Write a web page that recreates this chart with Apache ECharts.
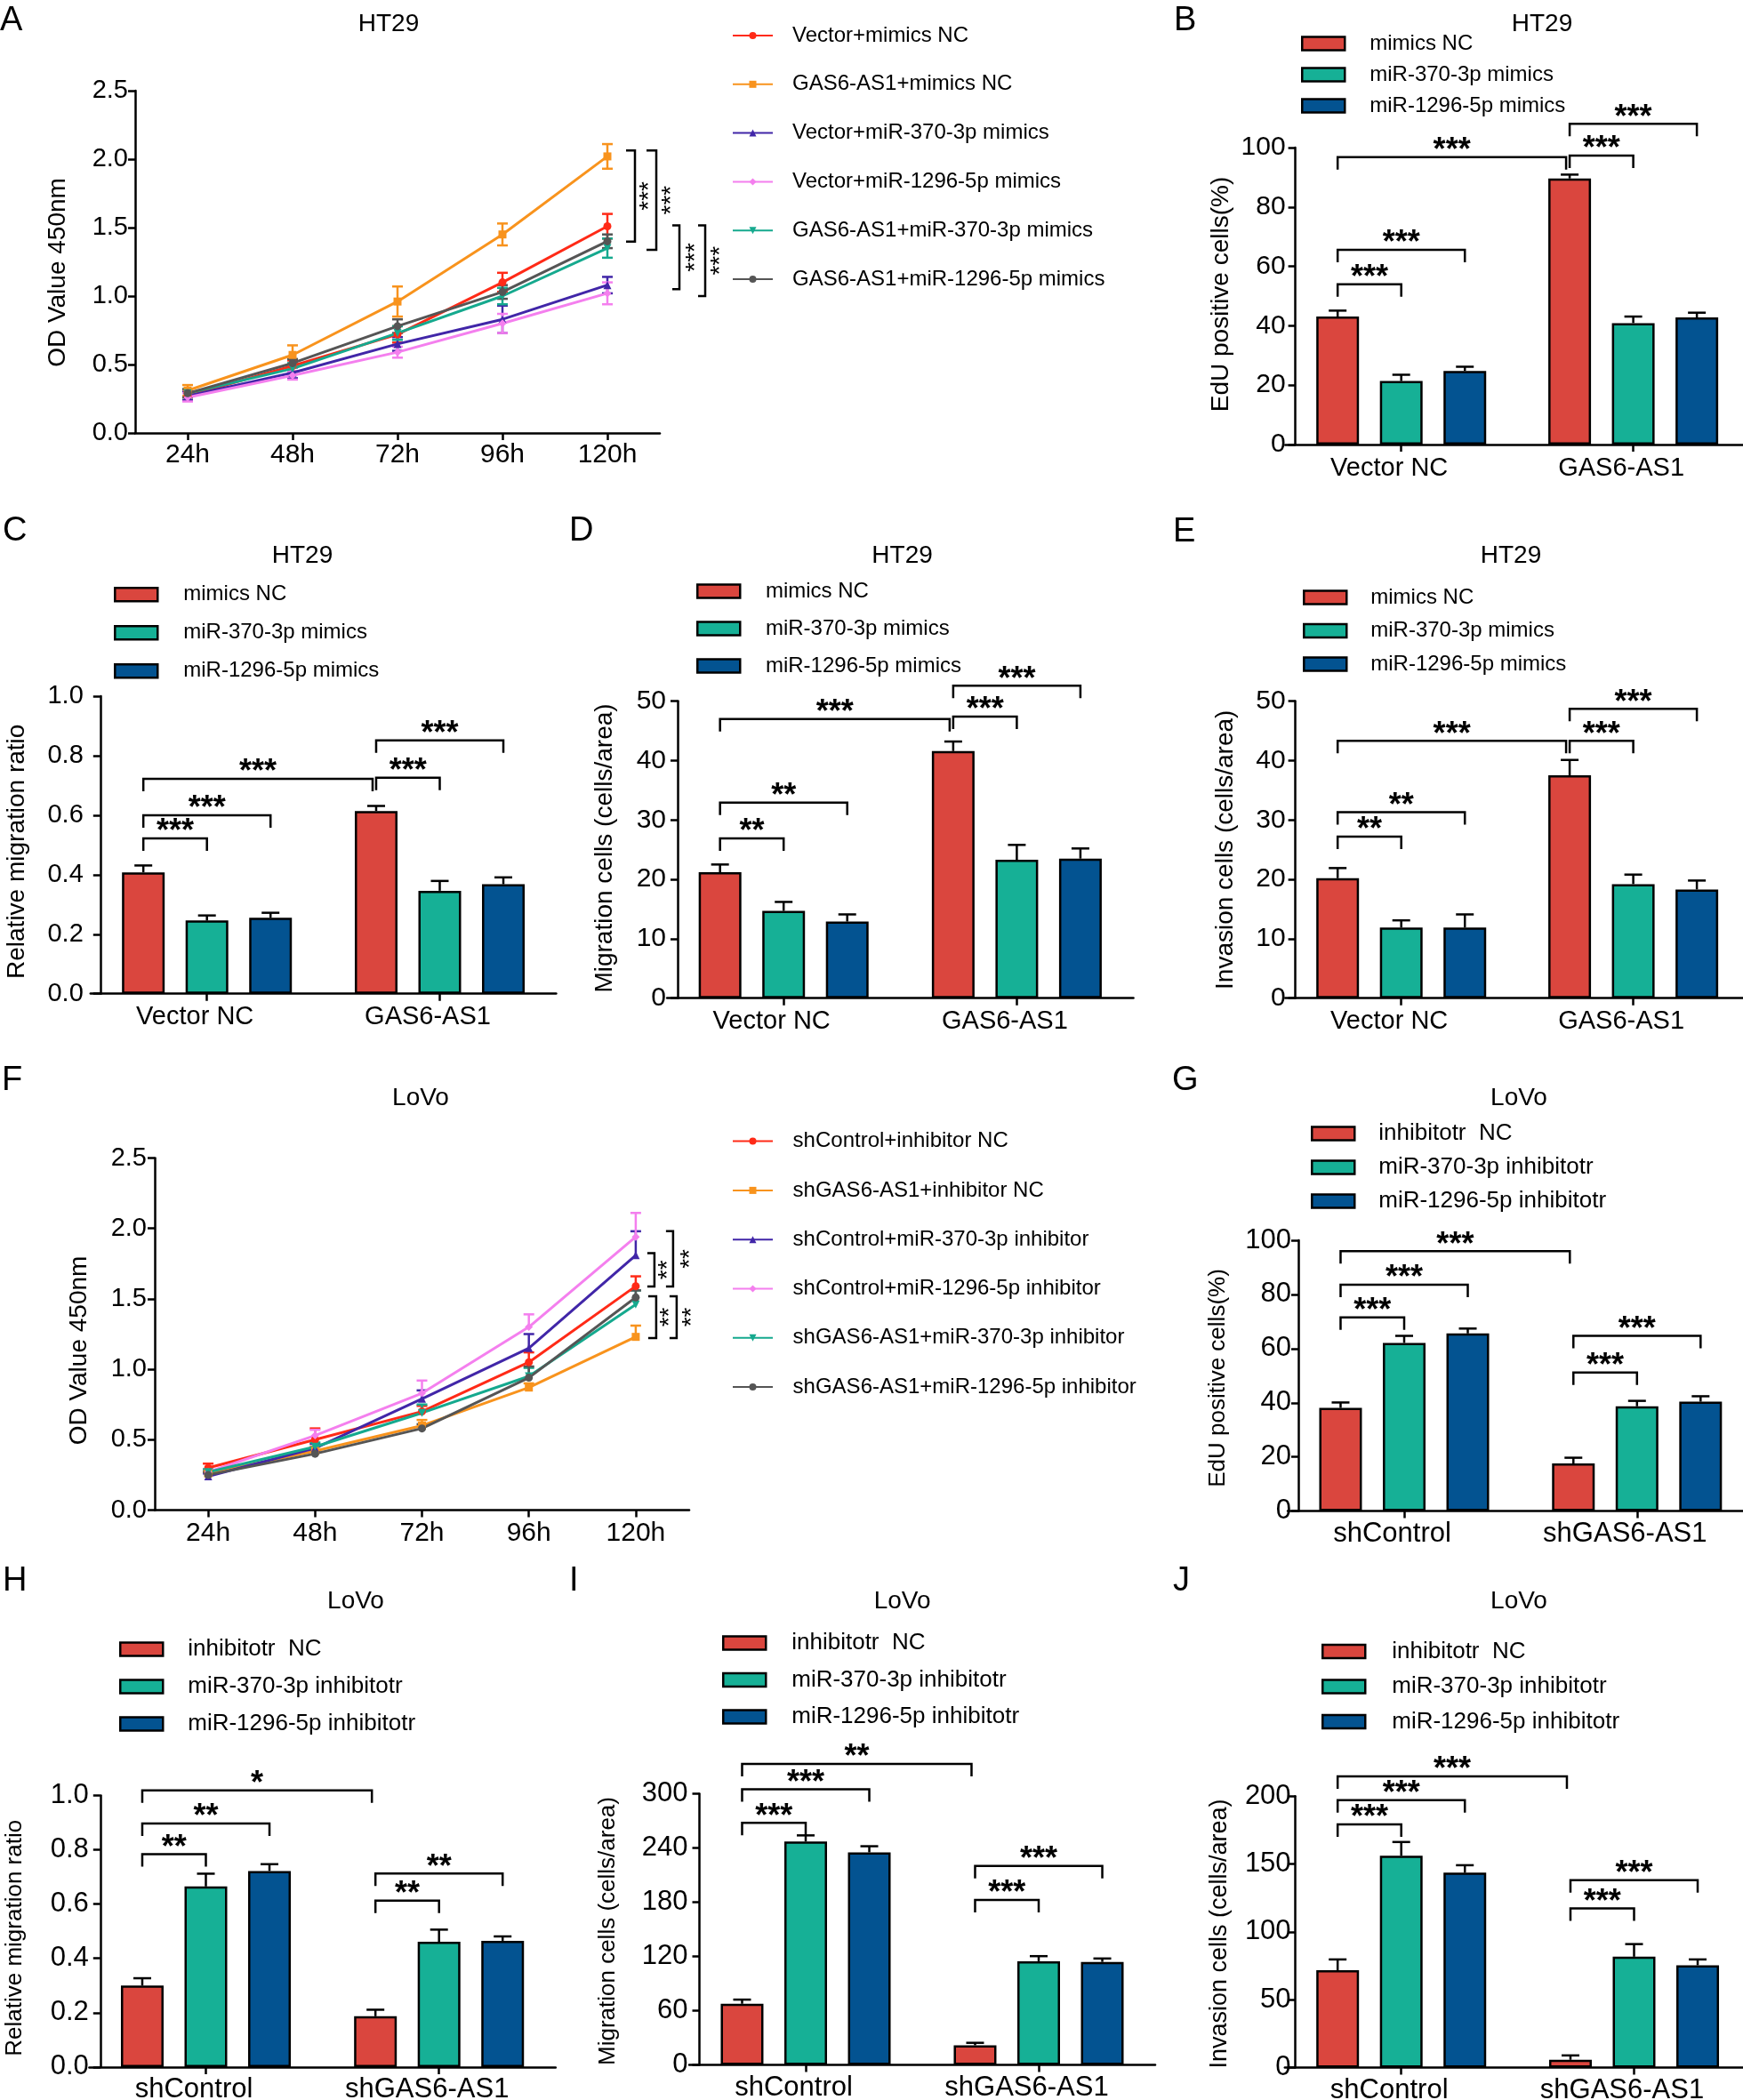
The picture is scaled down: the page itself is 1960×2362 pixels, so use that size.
<!DOCTYPE html>
<html><head><meta charset="utf-8">
<script src="https://cdn.jsdelivr.net/npm/echarts@6/dist/echarts.min.js"></script>
<style>html,body{margin:0;padding:0;background:#fff}#c{width:1960px;height:2362px}</style>
</head><body><div id="c"></div><script>
const FONT = '"Liberation Sans", Arial, Helvetica, sans-serif';

// ---------- DATA ----------
const hours = ['24h', '48h', '72h', '96h', '120h'];

const namesA = ['Vector+mimics NC', 'GAS6-AS1+mimics NC', 'Vector+miR-370-3p mimics', 'Vector+miR-1296-5p mimics', 'GAS6-AS1+miR-370-3p mimics', 'GAS6-AS1+miR-1296-5p mimics'];
const meanA = [
  [0.27, 0.49, 0.72, 1.10, 1.51],
  [0.31, 0.57, 0.96, 1.45, 2.02],
  [0.27, 0.44, 0.65, 0.83, 1.08],
  [0.26, 0.42, 0.59, 0.80, 1.02],
  [0.29, 0.47, 0.73, 1.00, 1.35],
  [0.29, 0.51, 0.78, 1.03, 1.40]
];
const errA = [
  [0.03, 0.04, 0.06, 0.07, 0.09],
  [0.04, 0.07, 0.11, 0.08, 0.09],
  [0.03, 0.04, 0.05, 0.10, 0.06],
  [0.03, 0.03, 0.04, 0.07, 0.08],
  [0.03, 0.04, 0.05, 0.06, 0.07],
  [0.03, 0.03, 0.05, 0.05, 0.05]
];
// brackets on line plots: [x index, top value, bottom value, label]
const brA = [[4, 2.064, 1.398, '***'], [4, 2.064, 1.337, '***'], [4, 1.516, 1.051, '***'], [4, 1.516, 1.0, '***']];

const namesF = ['shControl+inhibitor NC', 'shGAS6-AS1+inhibitor NC', 'shControl+miR-370-3p inhibitor', 'shControl+miR-1296-5p inhibitor', 'shGAS6-AS1+miR-370-3p inhibitor', 'shGAS6-AS1+miR-1296-5p inhibitor'];
const meanF = [
  [0.30, 0.50, 0.70, 1.05, 1.59],
  [0.26, 0.42, 0.60, 0.87, 1.23],
  [0.24, 0.44, 0.79, 1.15, 1.81],
  [0.27, 0.53, 0.83, 1.30, 1.94],
  [0.27, 0.45, 0.69, 0.95, 1.46],
  [0.25, 0.40, 0.58, 0.94, 1.51]
];
const errF = [
  [0.03, 0.08, 0.04, 0.07, 0.07],
  [0.02, 0.03, 0.04, 0.03, 0.08],
  [0.02, 0.03, 0.06, 0.10, 0.17],
  [0.02, 0.04, 0.09, 0.09, 0.17],
  [0.02, 0.03, 0.06, 0.06, 0.10],
  [0.02, 0.02, 0.03, 0.08, 0.05]
];
const brF = [[4, 1.824, 1.587, '**'], [4, 1.981, 1.587, '**'], [4, 1.519, 1.222, '**'], [4, 1.519, 1.222, '**']];

const catHT = ['Vector NC', 'GAS6-AS1'];
const catLo = ['shControl', 'shGAS6-AS1'];
const grpHT = ['mimics NC', 'miR-370-3p mimics', 'miR-1296-5p mimics'];
const grpLo = ['inhibitotr  NC', 'miR-370-3p inhibitotr', 'miR-1296-5p inhibitotr'];

// bar means/errors: one row per group series, one column per category
const meanB = [[43.1, 89.6], [21.4, 40.9], [24.8, 42.8]];
const errB  = [[2.0, 1.3], [2.1, 2.2], [1.4, 1.6]];
const meanC = [[0.408, 0.614], [0.246, 0.346], [0.255, 0.368]];
const errC  = [[0.023, 0.017], [0.017, 0.033], [0.017, 0.023]];
const meanD = [[21.2, 41.6], [14.7, 23.3], [12.9, 23.5]];
const errD  = [[1.3, 1.6], [1.5, 2.5], [1.2, 1.7]];
const meanE = [[20.2, 37.5], [11.9, 19.2], [11.9, 18.3]];
const errE  = [[1.7, 2.6], [1.2, 1.6], [2.2, 1.5]];
const meanG = [[38.1, 17.6], [62.1, 38.7], [65.6, 40.4]];
const errG  = [[2.0, 2.1], [2.6, 2.0], [1.8, 2.0]];
const meanH = [[0.300, 0.187], [0.665, 0.461], [0.722, 0.465]];
const errH  = [[0.027, 0.024], [0.047, 0.045], [0.025, 0.016]];
const meanI = [[67.7, 21.8], [247.3, 114.8], [235.2, 114.0]];
const errI  = [[4.6, 2.7], [6.7, 5.6], [6.8, 3.8]];
const meanJ = [[71.7, 5.8], [156.1, 81.7], [143.6, 75.4]];
const errJ  = [[8.0, 3.2], [10.1, 9.3], [5.5, 4.3]];

// significance brackets: [cat1, group1, cat2, group2, level, label]
const brB = [[0,0,0,1,54,'***'], [0,0,0,2,65.6,'***'], [0,0,1,0,96.8,'***'], [1,0,1,1,97.3,'***'], [1,0,1,2,108,'***']];
const brC = [[0,0,0,1,0.522,'***'], [0,0,0,2,0.60,'***'], [0,0,1,0,0.722,'***'], [1,0,1,1,0.726,'***'], [1,0,1,2,0.851,'***']];
const brD = [[0,0,0,1,26.9,'**'], [0,0,0,2,32.9,'**'], [0,0,1,0,47,'***'], [1,0,1,1,47.4,'***'], [1,0,1,2,52.6,'***']];
const brE = [[0,0,0,1,27.2,'**'], [0,0,0,2,31.3,'**'], [0,0,1,0,43.3,'***'], [1,0,1,1,43.3,'***'], [1,0,1,2,48.7,'***']];
const brG = [[0,0,0,1,71.5,'***'], [0,0,0,2,83.6,'***'], [0,0,1,0,96,'***'], [1,0,1,1,51.2,'***'], [1,0,1,2,64.7,'***']];
const brH = [[0,0,0,1,0.784,'**'], [0,0,0,2,0.897,'**'], [0,0,1,0,1.019,'*'], [1,0,1,1,0.613,'**'], [1,0,1,2,0.713,'**']];
const brI = [[0,0,0,1,268,'***'], [0,0,0,2,304.9,'***'], [0,0,1,0,333,'**'], [1,0,1,1,182.5,'***'], [1,0,1,2,220.2,'***']];
const brJ = [[0,0,0,1,179.2,'***'], [0,0,0,2,197,'***'], [0,0,1,0,214.5,'***'], [1,0,1,1,117.3,'***'], [1,0,1,2,138.1,'***']];

// ---------- STYLE / LAYOUT ----------
const lineColors = ['#FF2A17', '#F8931D', '#4126A8', '#F47FEE', '#15A98E', '#555555'];
const lineSymbols = ['circle', 'rect', 'triangle', 'diamond', 'triangle', 'circle'];
const lineSymRot = [0, 0, 0, 0, 180, 0];
const barColors = ['#DA463E', '#16B096', '#035391'];
const AX = {color: '#000', width: 2.5};
const BARW = 48, BARGAP = 0.49, STEP = BARW * (1 + BARGAP);

const option = {
  animation: false, backgroundColor: '#fff',
  textStyle: {fontFamily: FONT},
  grid: [], xAxis: [], yAxis: [], series: [], legend: [], graphic: []
};

function txt(text, x, y, fs, opts) {
  opts = opts || {};
  option.graphic.push({
    type: 'text', x: x, y: y, rotation: opts.rot || 0, silent: true,
    style: {
      text: text, fill: '#000', fontSize: fs, fontFamily: FONT, fontWeight: opts.weight || 'normal',
      align: opts.align || 'center', verticalAlign: 'middle',
      textAlign: opts.align || 'center', textVerticalAlign: 'middle'
    }
  });
}

function yAxisCfg(gi, max, interval, dec, fs, margin, offset) {
  return {
    type: 'value', gridIndex: gi, min: 0, max: max, interval: interval, offset: offset || 0,
    axisLine: {show: true, onZero: false, lineStyle: AX},
    axisTick: {show: true, length: 8, lineStyle: AX},
    axisLabel: {show: true, color: '#000', fontSize: fs, fontFamily: FONT, margin: margin,
      showMinLabel: true, showMaxLabel: true, hideOverlap: false,
      formatter: function (v) { return v.toFixed(dec); }},
    splitLine: {show: false}
  };
}
function xAxisCfg(gi, data, fs, margin, shift) {
  return {
    type: 'category', gridIndex: gi, data: data, boundaryGap: true,
    axisLine: {show: true, onZero: false, lineStyle: AX},
    axisTick: {show: true, alignWithLabel: true, interval: 0, length: 8, lineStyle: AX},
    axisLabel: {show: true, interval: 0, color: '#000', fontSize: fs, fontFamily: FONT, margin: margin, hideOverlap: false,
      padding: [0, shift || 0, 0, 0]},
    splitLine: {show: false}
  };
}

// ---------- LINE PANELS ----------
function addLinePanel(p) {
  const gi = option.grid.length;
  option.grid.push({left: p.left, top: p.top, width: p.width, height: p.height, containLabel: false, outerBoundsMode: 'none'});
  option.xAxis.push(xAxisCfg(gi, hours, 30, p.xMargin, 0));
  option.yAxis.push(yAxisCfg(gi, 2.5, 0.5, 1, 29, p.yMargin, 0));
  p.names.forEach(function (n, k) {
    option.series.push({
      type: 'line', name: n, xAxisIndex: gi, yAxisIndex: gi, data: p.mean[k],
      symbol: lineSymbols[k], symbolRotate: lineSymRot[k], symbolSize: 9, showSymbol: true,
      lineStyle: {color: lineColors[k], width: 3}, itemStyle: {color: lineColors[k]}, z: 3, silent: true
    });
  });
  // error bars
  const errData = [];
  p.mean.forEach(function (row, k) { row.forEach(function (v, i) { errData.push([i, v, p.err[k][i], k]); }); });
  option.series.push({
    type: 'custom', xAxisIndex: gi, yAxisIndex: gi, data: errData, encode: {x: 0, y: 1}, z: 2, silent: true, clip: false,
    renderItem: function (params, api) {
      const i = api.value(0), v = api.value(1), e = api.value(2), k = api.value(3);
      const c = lineColors[k];
      const pt = api.coord([i, v + e]);
      const pb = api.coord([i, p.both ? v - e : v]);
      const x = pt[0];
      const ch = [
        {type: 'line', shape: {x1: x, y1: pt[1], x2: x, y2: pb[1]}, style: {stroke: c, lineWidth: 2.5}},
        {type: 'line', shape: {x1: x - 6, y1: pt[1], x2: x + 6, y2: pt[1]}, style: {stroke: c, lineWidth: 2.5}}
      ];
      if (p.both) ch.push({type: 'line', shape: {x1: x - 6, y1: pb[1], x2: x + 6, y2: pb[1]}, style: {stroke: c, lineWidth: 2.5}});
      return {type: 'group', children: ch};
    }
  });
  // brackets
  option.series.push({
    type: 'custom', xAxisIndex: gi, yAxisIndex: gi, data: p.br.map(function (b) { return [b[0], b[1]]; }),
    encode: {x: 0, y: 1}, z: 4, silent: true, clip: false,
    renderItem: function (params, api) {
      const b = p.br[params.dataIndex];
      const off = p.brOff[params.dataIndex];
      const top = api.coord([b[0], b[1]]), bot = api.coord([b[0], b[2]]);
      const x0 = top[0];
      return {type: 'group', children: [
        {type: 'polyline', shape: {points: [[x0 + off[0], top[1]], [x0 + off[1], top[1]], [x0 + off[1], bot[1]], [x0 + off[0], bot[1]]]},
          style: {stroke: '#000', lineWidth: 2.5, fill: null}},
        {type: 'text', x: x0 + off[2] + 6, y: (top[1] + bot[1]) / 2, rotation: Math.PI / 2,
          style: {text: b[3], fill: '#000', fontSize: 28, fontFamily: FONT, align: 'center', verticalAlign: 'middle', textAlign: 'center', textVerticalAlign: 'middle'}}
      ]};
    }
  });
  option.legend.push({
    data: p.names, orient: 'vertical', left: p.legLeft, top: p.legTop, padding: 0, itemGap: p.legGap,
    itemWidth: 45, itemHeight: 10, selectedMode: false,
    textStyle: {color: '#000', fontSize: 24, fontFamily: FONT, padding: [0, 0, 0, p.legPad]}
  });
}

addLinePanel({left: 152, top: 102, width: 590, height: 385, xMargin: 10, yMargin: 8,
  names: namesA, mean: meanA, err: errA, both: true, br: brA,
  brOff: [[21, 31, 41], [44, 55, 66], [73, 81, 93], [102, 110, 121]],
  legLeft: 823, legTop: 28, legGap: 30.8, legPad: 17});
addLinePanel({left: 174, top: 1302.5, width: 601, height: 396, xMargin: 11, yMargin: 9,
  names: namesF, mean: meanF, err: errF, both: false, br: brF,
  brOff: [[13, 21, 30], [34, 42, 55], [14, 23, 32], [38, 46, 57]],
  legLeft: 823, legTop: 1271.6, legGap: 31.3, legPad: 17.6});

// ---------- BAR PANELS ----------
function addBarPanel(p) {
  const gi = option.grid.length;
  const band = p.c2 - p.c1;
  const gl = p.c1 - band / 2;
  option.grid.push({left: gl, top: p.top, width: band * 2, height: p.bottom - p.top, containLabel: false, outerBoundsMode: 'none'});
  option.xAxis.push(xAxisCfg(gi, p.cats, p.catFont, p.catMargin, 27));
  option.yAxis.push(yAxisCfg(gi, p.max, p.interval, p.dec, p.tickFont, p.tickMargin, -(p.X - gl)));
  p.groups.forEach(function (g, k) {
    option.series.push({
      type: 'bar', name: g, xAxisIndex: gi, yAxisIndex: gi, data: p.mean[k],
      barWidth: BARW, barGap: (BARGAP * 100) + '%', silent: true, z: 2,
      itemStyle: {color: barColors[k], borderColor: '#000', borderWidth: 2.5}
    });
  });
  const errData = [];
  p.mean.forEach(function (row, k) { row.forEach(function (v, c) { errData.push([c, v, p.err[k][c], k]); }); });
  option.series.push({
    type: 'custom', xAxisIndex: gi, yAxisIndex: gi, data: errData, encode: {x: 0, y: 1}, z: 3, silent: true, clip: false,
    renderItem: function (params, api) {
      const c = api.value(0), v = api.value(1), e = api.value(2), k = api.value(3);
      const p0 = api.coord([c, v]), p1 = api.coord([c, v + e]);
      const x = p0[0] + (k - 1) * STEP;
      return {type: 'group', children: [
        {type: 'line', shape: {x1: x, y1: p0[1], x2: x, y2: p1[1]}, style: {stroke: '#000', lineWidth: 2.5}},
        {type: 'line', shape: {x1: x - 10, y1: p1[1], x2: x + 10, y2: p1[1]}, style: {stroke: '#000', lineWidth: 2.5}}
      ]};
    }
  });
  option.series.push({
    type: 'custom', xAxisIndex: gi, yAxisIndex: gi, data: p.br.map(function (b) { return [b[0], b[4]]; }),
    encode: {x: 0, y: 1}, z: 4, silent: true, clip: false,
    renderItem: function (params, api) {
      const b = p.br[params.dataIndex];
      const pa = api.coord([b[0], b[4]]), pb = api.coord([b[2], b[4]]);
      let x1 = pa[0] + (b[1] - 1) * STEP, x2 = pb[0] + (b[3] - 1) * STEP;
      if (b[0] !== b[2]) x2 -= 4;
      const y = pa[1], d = 14;
      return {type: 'group', children: [
        {type: 'polyline', shape: {points: [[x1, y + d], [x1, y], [x2, y], [x2, y + d]]}, style: {stroke: '#000', lineWidth: 2.5, fill: null}},
        {type: 'text', x: (x1 + x2) / 2, y: y - 6.5,
          style: {text: b[5], fill: '#000', fontSize: 36, fontWeight: 'bold', fontFamily: FONT, align: 'center', verticalAlign: 'middle', textAlign: 'center', textVerticalAlign: 'middle'}}
      ]};
    }
  });
  option.legend.push({
    data: p.groups, orient: 'vertical', left: p.leg[0], top: p.leg[1], padding: 0, itemGap: p.leg[2],
    itemWidth: 48, itemHeight: 15, icon: 'rect', selectedMode: false,
    itemStyle: {borderColor: '#000', borderWidth: 2.5},
    textStyle: {color: '#000', fontSize: p.leg[4], fontFamily: FONT, padding: [0, 0, 0, p.leg[3]]}
  });
}

addBarPanel({X: 1456.6, c1: 1575.7, c2: 1836.6, top: 166, bottom: 500, max: 100, interval: 20, dec: 0,
  cats: catHT, groups: grpHT, mean: meanB, err: errB, br: brB, catFont: 29, catMargin: 12, tickFont: 30, tickMargin: 11,
  leg: [1463, 37, 11, 23, 24]});
addBarPanel({X: 112.8, c1: 232.7, c2: 494.5, top: 783, bottom: 1117.7, max: 1, interval: 0.2, dec: 1,
  cats: catHT, groups: grpHT, mean: meanC, err: errC, br: brC, catFont: 29, catMargin: 12, tickFont: 29, tickMargin: 19,
  leg: [128, 656.8, 19, 24, 24]});
addBarPanel({X: 762, c1: 881.2, c2: 1143.4, top: 788.6, bottom: 1122.7, max: 50, interval: 10, dec: 0,
  cats: catHT, groups: grpHT, mean: meanD, err: errD, br: brD, catFont: 29, catMargin: 12, tickFont: 30, tickMargin: 13,
  leg: [783, 653, 18, 23.7, 24]});
addBarPanel({X: 1456.6, c1: 1575.7, c2: 1836.6, top: 788.6, bottom: 1122.7, max: 50, interval: 10, dec: 0,
  cats: catHT, groups: grpHT, mean: meanE, err: errE, br: brE, catFont: 29, catMargin: 12, tickFont: 30, tickMargin: 11,
  leg: [1465, 660, 13.5, 22, 24]});
addBarPanel({X: 1460, c1: 1579, c2: 1840.8, top: 1395, bottom: 1699.6, max: 100, interval: 20, dec: 0,
  cats: catLo, groups: grpLo, mean: meanG, err: errG, br: brG, catFont: 31, catMargin: 10, tickFont: 31, tickMargin: 8,
  leg: [1474, 1262, 12, 22, 26]});
addBarPanel({X: 112.8, c1: 231.5, c2: 493.7, top: 2019.5, bottom: 2324.9, max: 1, interval: 0.2, dec: 1,
  cats: catLo, groups: grpLo, mean: meanH, err: errH, br: brH, catFont: 31, catMargin: 10, tickFont: 31, tickMargin: 13,
  leg: [134, 1842, 16, 23, 26]});
addBarPanel({X: 786.5, c1: 906, c2: 1168, top: 2017.6, bottom: 2322.6, max: 300, interval: 60, dec: 0,
  cats: catLo, groups: grpLo, mean: meanI, err: errI, br: brI, catFont: 31, catMargin: 10, tickFont: 31, tickMargin: 13,
  leg: [812, 1835, 15.5, 24, 26]});
addBarPanel({X: 1456.6, c1: 1575.7, c2: 1837.5, top: 2020.2, bottom: 2325.6, max: 200, interval: 50, dec: 0,
  cats: catLo, groups: grpLo, mean: meanJ, err: errJ, br: brJ, catFont: 31, catMargin: 10, tickFont: 31, tickMargin: 5,
  leg: [1486, 1844.6, 13.5, 25, 26]});

// ---------- TEXTS ----------
// panel letters
[['A', 0, 24], ['B', 1320, 24], ['C', 3, 598], ['D', 640, 598], ['E', 1319, 599],
 ['F', 2, 1216], ['G', 1318, 1216], ['H', 3, 1779], ['I', 640, 1779], ['J', 1319, 1779]].forEach(function (l) {
  txt(l[0], l[1], l[2], 38, {align: 'left'});
});
// panel titles
[['HT29', 437, 27], ['HT29', 1734, 27], ['HT29', 340, 625], ['HT29', 1014.6, 625], ['HT29', 1699, 625],
 ['LoVo', 473, 1235], ['LoVo', 1708, 1235], ['LoVo', 400, 1801], ['LoVo', 1014.6, 1801], ['LoVo', 1708, 1801]].forEach(function (t) {
  txt(t[0], t[1], t[2], 28);
});
// y axis titles
[['OD Value 450nm', 65, 306.5, 28], ['EdU positive cells(%)', 1373.6, 331, 28],
 ['Relative migration ratio', 19, 957.8, 28], ['Migration cells (cells/area)', 680, 954, 28],
 ['Invasion cells (cells/area)', 1378, 955.8, 28], ['OD Value 450nm', 89, 1519, 28],
 ['EdU positive cells(%)', 1369.4, 1550, 26], ['Relative migration ratio', 16.8, 2179.8, 26],
 ['Migration cells (cells/area)', 684, 2172, 26], ['Invasion cells (cells/area)', 1371.6, 2175, 27]].forEach(function (t) {
  txt(t[0], t[1], t[2], t[3], {rot: Math.PI / 2});
});

const chart = echarts.init(document.getElementById('c'), null, {renderer: 'canvas', width: 1960, height: 2362});
chart.setOption(option);
</script></body></html>
